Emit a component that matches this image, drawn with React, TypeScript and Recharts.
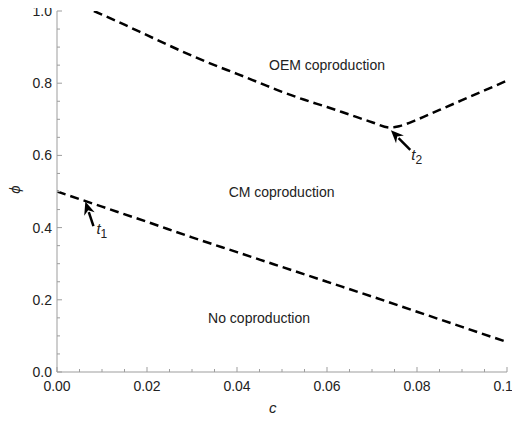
import {
  LineChart,
  Line,
  XAxis,
  YAxis,
  ReferenceLine,
  ReferenceDot,
} from "recharts";

const X_TICKS = [
  0, 0.005, 0.01, 0.015, 0.02, 0.025, 0.03, 0.035, 0.04, 0.045, 0.05, 0.055, 0.06,
  0.065, 0.07, 0.075, 0.08, 0.085, 0.09, 0.095, 0.1,
];
const X_MAJOR = [0, 0.02, 0.04, 0.06, 0.08, 0.1];
const Y_TICKS = [
  0, 0.05, 0.1, 0.15, 0.2, 0.25, 0.3, 0.35, 0.4, 0.45, 0.5, 0.55, 0.6, 0.65, 0.7,
  0.75, 0.8, 0.85, 0.9, 0.95, 1,
];
const Y_MAJOR = [0, 0.2, 0.4, 0.6, 0.8, 1];

// lower boundary: no coproduction / CM coproduction
const LOWER_C = [0, 0.01, 0.02, 0.03, 0.04, 0.05, 0.06, 0.07, 0.08, 0.09, 0.1];
const LOWER_PHI = [0.5, 0.458, 0.416, 0.373, 0.332, 0.291, 0.25, 0.209, 0.167, 0.125, 0.083];

// upper boundary: CM coproduction / OEM coproduction
const UPPER_C = [0.0082, 0.01, 0.015, 0.02, 0.025, 0.03, 0.035, 0.04, 0.045, 0.05, 0.055, 0.06, 0.065, 0.07, 0.0741, 0.076, 0.08, 0.085, 0.09, 0.095, 0.1];
const UPPER_PHI = [1.0, 0.99, 0.962, 0.933, 0.904, 0.876, 0.85, 0.826, 0.801, 0.776, 0.754, 0.734, 0.713, 0.692, 0.677, 0.681, 0.699, 0.726, 0.753, 0.78, 0.807];

const REGIONS = [
  { label: "OEM coproduction", c: 0.06, phi: 0.851 },
  { label: "CM coproduction", c: 0.0499, phi: 0.5 },
  { label: "No coproduction", c: 0.0449, phi: 0.149 },
];

// arrow: tip first, tail second
const ARROWS = [
  { name: "t", sub: "1", tip: [0.0063, 0.472], tail: [0.0081, 0.404], dx: 3, dy: 8 },
  { name: "t", sub: "2", tip: [0.0742, 0.67], tail: [0.0785, 0.615], dx: 1, dy: 10 },
];

const lowerData = LOWER_C.map((c, i) => ({ c, phi: LOWER_PHI[i] }));
const upperData = UPPER_C.map((c, i) => ({ c, phi: UPPER_PHI[i] }));

const FRAME = "#9d9d9d";
const TEXT = "#222";
const FONT = "'Liberation Sans', Arial, sans-serif";

const isMajor = (list: number[], v: number) => list.some((m) => Math.abs(m - v) < 1e-9);

function BottomTick(props: any) {
  const { x, y, payload } = props;
  const major = isMajor(X_MAJOR, payload.value);
  return (
    <g>
      <line x1={x} x2={x} y1={y} y2={y - (major ? 5 : 3)} stroke={FRAME} strokeWidth={1} />
      {major && (
        <text x={x} y={y + 19} textAnchor="middle" fontSize={14} fill={TEXT} fontFamily={FONT}>
          {payload.value.toFixed(2)}
        </text>
      )}
    </g>
  );
}

function TopTick(props: any) {
  const { x, y, payload } = props;
  const major = isMajor(X_MAJOR, payload.value);
  return <line x1={x} x2={x} y1={y} y2={y + (major ? 5 : 3)} stroke={FRAME} strokeWidth={1} />;
}

function LeftTick(props: any) {
  const { x, y, payload } = props;
  const major = isMajor(Y_MAJOR, payload.value);
  return (
    <g>
      <line x1={x} x2={x + (major ? 5 : 3)} y1={y} y2={y} stroke={FRAME} strokeWidth={1} />
      {major && (
        <text x={x - 5} y={y + 5} textAnchor="end" fontSize={14} fill={TEXT} fontFamily={FONT}>
          {payload.value.toFixed(1)}
        </text>
      )}
    </g>
  );
}

function RightTick(props: any) {
  const { x, y, payload } = props;
  const major = isMajor(Y_MAJOR, payload.value);
  return <line x1={x} x2={x - (major ? 5 : 3)} y1={y} y2={y} stroke={FRAME} strokeWidth={1} />;
}

function makeArrow(name: string, sub: string, dx: number, dy: number) {
  return (p: any) => {
    const { x1, y1, x2, y2 } = p;
    const ang = Math.atan2(y1 - y2, x1 - x2);
    const len = 13;
    const w = 5.5;
    const bx = x1 - len * Math.cos(ang);
    const by = y1 - len * Math.sin(ang);
    const nx = -Math.sin(ang);
    const ny = Math.cos(ang);
    return (
      <g>
        <line x1={x2} y1={y2} x2={bx + 2 * Math.cos(ang)} y2={by + 2 * Math.sin(ang)} stroke="#000" strokeWidth={2.5} />
        <polygon
          points={`${x1},${y1} ${bx + nx * w},${by + ny * w} ${bx + 4 * Math.cos(ang)},${by + 4 * Math.sin(ang)} ${bx - nx * w},${by - ny * w}`}
          fill="#000"
        />
        <text x={x2 + dx} y={y2 + dy} fontSize={15} fill={TEXT} fontFamily={FONT} fontStyle="italic">
          {name}
          <tspan dy={4} fontSize={12} fontStyle="normal">
            {sub}
          </tspan>
        </text>
      </g>
    );
  };
}

function RegionLabel(label: string) {
  return (p: any) => (
    <text x={p.cx} y={p.cy + 5} textAnchor="middle" fontSize={14} fill={TEXT} fontFamily={FONT}>
      {label}
    </text>
  );
}

export default function App() {
  return (
    <div style={{ width: 520, height: 423, marginLeft: -8, marginTop: -8, position: "relative", fontFamily: FONT }}>
      <LineChart
        width={520}
        height={423}
        margin={{ top: 11, right: 13, left: 17, bottom: 0 }}
        style={{ overflow: "visible" }}
      >
        <XAxis
          type="number"
          dataKey="c"
          domain={[0, 0.1]}
          ticks={X_TICKS}
          interval={0}
          allowDataOverflow
          stroke={FRAME}
          tickSize={0}
          tickMargin={0}
          tick={<BottomTick />}
          height={51}
        />
        <XAxis
          xAxisId="top"
          orientation="top"
          type="number"
          dataKey="c"
          domain={[0, 0.1]}
          ticks={X_TICKS}
          interval={0}
          stroke={FRAME}
          tickSize={0}
          tickMargin={0}
          tick={<TopTick />}
          height={0}
        />
        <YAxis
          type="number"
          dataKey="phi"
          domain={[0, 1]}
          ticks={Y_TICKS}
          interval={0}
          allowDataOverflow
          stroke={FRAME}
          tickSize={0}
          tickMargin={0}
          tick={<LeftTick />}
          width={40}
        />
        <YAxis
          yAxisId="right"
          orientation="right"
          type="number"
          domain={[0, 1]}
          ticks={Y_TICKS}
          interval={0}
          stroke={FRAME}
          tickSize={0}
          tickMargin={0}
          tick={<RightTick />}
          width={0}
        />
        <Line
          data={lowerData}
          dataKey="phi"
          type="monotone"
          stroke="#000"
          strokeWidth={2.5}
          strokeDasharray="9 5"
          dot={false}
          isAnimationActive={false}
        />
        <Line
          data={upperData}
          dataKey="phi"
          type="monotone"
          stroke="#000"
          strokeWidth={2.5}
          strokeDasharray="9 5"
          dot={false}
          isAnimationActive={false}
        />
        {ARROWS.map((a) => (
          <ReferenceLine
            key={a.sub}
            segment={[
              { x: a.tip[0], y: a.tip[1] },
              { x: a.tail[0], y: a.tail[1] },
            ]}
            shape={makeArrow(a.name, a.sub, a.dx, a.dy)}
            ifOverflow="visible"
          />
        ))}
        {REGIONS.map((r) => (
          <ReferenceDot key={r.label} x={r.c} y={r.phi} r={0} shape={RegionLabel(r.label)} />
        ))}
      </LineChart>
      <div
        style={{
          position: "absolute",
          left: 269,
          top: 399,
          fontSize: 15,
          fontStyle: "italic",
          color: TEXT,
        }}
      >
        c
      </div>
      <div
        style={{
          position: "absolute",
          left: 10,
          top: 181,
          fontSize: 15,
          fontStyle: "italic",
          color: TEXT,
          transform: "rotate(-90deg)",
        }}
      >
        ϕ
      </div>
    </div>
  );
}
